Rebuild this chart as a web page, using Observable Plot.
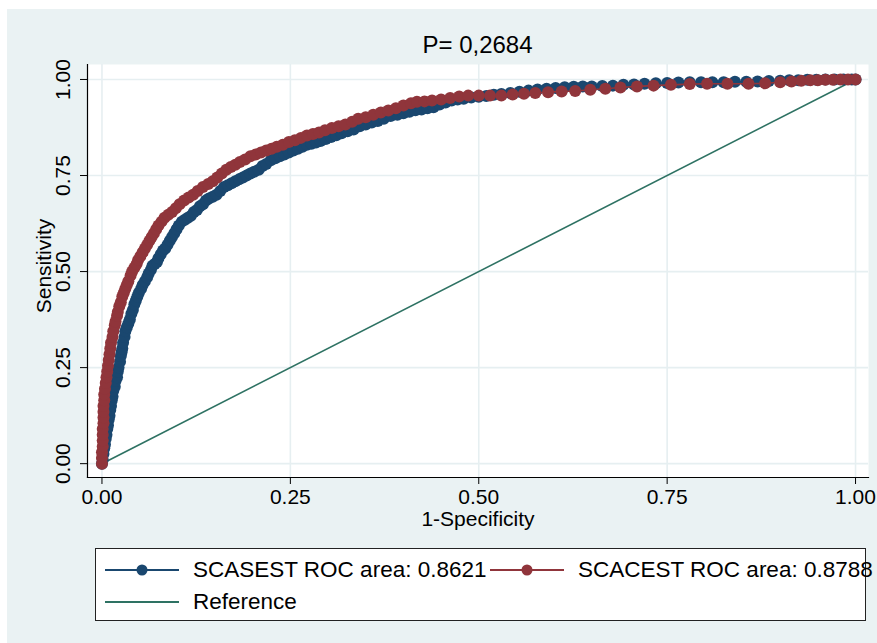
<!DOCTYPE html>
<html>
<head>
<meta charset="utf-8">
<script src="https://cdn.jsdelivr.net/npm/d3@7"></script>
<script src="https://cdn.jsdelivr.net/npm/@observablehq/plot@0.6"></script>
<style>
  body { margin: 0; background: #ffffff; }
  #wrap { position: relative; width: 877px; height: 643px; background: #ffffff; overflow: hidden;
          font-family: "Liberation Sans", Arial, Helvetica, sans-serif; color: #000; }
  #bg { position: absolute; left: 7px; top: 9px; width: 870px; height: 634px; background: #eaf2f3; }
  #title { position: absolute; left: 87px; width: 781px; top: 30px; text-align: center; font-size: 24px; line-height: 30px; }
  #chart { position: absolute; left: 7px; top: 9px; }
  #legend { position: absolute; left: 95px; top: 548px; width: 771px; height: 73px; background: #fff;
            border: 1px solid #222; box-sizing: border-box; }
  .item { position: absolute; display: flex; align-items: center; font-size: 22.5px; white-space: nowrap; height: 28px; }
  .item svg { display: block; margin-right: 14px; }
</style>
</head>
<body>
<div id="wrap">
  <div id="bg"></div>
  <div id="title"></div>
  <div id="chart"></div>
  <div id="legend"></div>
</div>
<script>
// ---- data ----
const titleText = "P= 0,2684";
const xLabel = "1-Specificity";
const yLabel = "Sensitivity";
const tickValues = [0, 0.25, 0.5, 0.75, 1];

const seriesNames = ["SCASEST ROC area: 0.8621", "SCACEST ROC area: 0.8788", "Reference"];
const seriesColors = ["#1a476f", "#90353b", "#2e7263"];

// SCASEST (1-specificity, sensitivity)
const scasestFPR = [0, 0.001, 0.002, 0.003, 0.004, 0.005, 0.006, 0.007, 0.008, 0.009, 0.010, 0.011, 0.012, 0.013, 0.014, 0.015, 0.017, 0.018, 0.020, 0.021, 0.022, 0.024, 0.025, 0.026, 0.027, 0.028, 0.030, 0.031, 0.033, 0.035, 0.037, 0.039, 0.041, 0.043, 0.045, 0.047, 0.049, 0.052, 0.054, 0.057, 0.060, 0.062, 0.065, 0.067, 0.070, 0.073, 0.075, 0.078, 0.081, 0.084, 0.087, 0.090, 0.093, 0.096, 0.099, 0.102, 0.106, 0.110, 0.114, 0.118, 0.122, 0.126, 0.130, 0.134, 0.138, 0.142, 0.147, 0.152, 0.157, 0.162, 0.167, 0.172, 0.177, 0.182, 0.187, 0.192, 0.197, 0.202, 0.208, 0.213, 0.218, 0.224, 0.230, 0.236, 0.242, 0.248, 0.254, 0.260, 0.266, 0.272, 0.278, 0.284, 0.290, 0.297, 0.304, 0.311, 0.318, 0.326, 0.334, 0.342, 0.350, 0.358, 0.366, 0.374, 0.383, 0.392, 0.400, 0.408, 0.416, 0.424, 0.432, 0.440, 0.448, 0.456, 0.464, 0.472, 0.480, 0.490, 0.500, 0.510, 0.520, 0.530, 0.542, 0.554, 0.566, 0.578, 0.590, 0.602, 0.614, 0.626, 0.638, 0.650, 0.664, 0.678, 0.692, 0.706, 0.720, 0.735, 0.750, 0.765, 0.780, 0.795, 0.810, 0.825, 0.840, 0.855, 0.870, 0.885, 0.900, 0.912, 0.924, 0.936, 0.948, 0.960, 0.972, 0.984, 0.995, 1.0];
const scasestTPR = [0, 0.010, 0.025, 0.040, 0.050, 0.065, 0.075, 0.090, 0.100, 0.115, 0.125, 0.140, 0.150, 0.165, 0.175, 0.190, 0.200, 0.215, 0.225, 0.240, 0.250, 0.265, 0.280, 0.290, 0.300, 0.315, 0.330, 0.345, 0.355, 0.365, 0.375, 0.390, 0.400, 0.415, 0.425, 0.435, 0.445, 0.455, 0.465, 0.475, 0.485, 0.495, 0.505, 0.515, 0.520, 0.525, 0.535, 0.545, 0.555, 0.560, 0.570, 0.580, 0.590, 0.600, 0.610, 0.620, 0.630, 0.635, 0.640, 0.645, 0.655, 0.660, 0.670, 0.675, 0.685, 0.690, 0.695, 0.700, 0.710, 0.720, 0.725, 0.730, 0.735, 0.740, 0.745, 0.750, 0.755, 0.760, 0.765, 0.775, 0.780, 0.790, 0.795, 0.800, 0.805, 0.810, 0.815, 0.820, 0.825, 0.830, 0.833, 0.836, 0.840, 0.845, 0.850, 0.855, 0.860, 0.865, 0.870, 0.878, 0.883, 0.888, 0.892, 0.898, 0.905, 0.908, 0.912, 0.916, 0.920, 0.922, 0.925, 0.928, 0.935, 0.940, 0.945, 0.948, 0.950, 0.953, 0.955, 0.957, 0.960, 0.962, 0.965, 0.968, 0.971, 0.974, 0.976, 0.978, 0.980, 0.981, 0.982, 0.982, 0.983, 0.984, 0.986, 0.987, 0.989, 0.990, 0.991, 0.992, 0.993, 0.993, 0.993, 0.993, 0.994, 0.994, 0.995, 0.996, 0.997, 0.998, 0.998, 0.999, 0.999, 1.0, 1.0, 1.0, 1.0, 1.0];

// SCACEST (1-specificity, sensitivity)
const scacestFPR = [0, 0, 0, 0.001, 0.001, 0.001, 0.001, 0.002, 0.002, 0.002, 0.002, 0.003, 0.003, 0.004, 0.005, 0.006, 0.007, 0.008, 0.009, 0.010, 0.011, 0.012, 0.014, 0.015, 0.017, 0.018, 0.020, 0.021, 0.023, 0.025, 0.027, 0.029, 0.031, 0.033, 0.035, 0.038, 0.040, 0.043, 0.046, 0.048, 0.051, 0.054, 0.057, 0.060, 0.063, 0.066, 0.069, 0.072, 0.075, 0.079, 0.083, 0.088, 0.093, 0.098, 0.103, 0.109, 0.115, 0.121, 0.127, 0.134, 0.141, 0.147, 0.153, 0.159, 0.165, 0.171, 0.177, 0.183, 0.190, 0.197, 0.204, 0.211, 0.218, 0.225, 0.232, 0.240, 0.248, 0.256, 0.264, 0.272, 0.280, 0.288, 0.296, 0.305, 0.314, 0.323, 0.332, 0.340, 0.350, 0.360, 0.370, 0.380, 0.390, 0.400, 0.410, 0.418, 0.428, 0.438, 0.450, 0.462, 0.474, 0.486, 0.500, 0.515, 0.530, 0.545, 0.560, 0.575, 0.592, 0.610, 0.628, 0.648, 0.668, 0.688, 0.710, 0.732, 0.755, 0.780, 0.803, 0.830, 0.858, 0.880, 0.900, 0.915, 0.928, 0.940, 0.950, 0.960, 0.970, 0.980, 0.990, 1.0];
const scacestTPR = [0, 0.015, 0.030, 0.045, 0.060, 0.075, 0.090, 0.105, 0.120, 0.135, 0.150, 0.165, 0.180, 0.195, 0.210, 0.225, 0.240, 0.255, 0.270, 0.285, 0.300, 0.315, 0.330, 0.345, 0.360, 0.370, 0.385, 0.395, 0.410, 0.420, 0.435, 0.445, 0.455, 0.465, 0.475, 0.490, 0.500, 0.510, 0.520, 0.530, 0.540, 0.550, 0.560, 0.570, 0.580, 0.590, 0.600, 0.610, 0.620, 0.630, 0.640, 0.648, 0.655, 0.665, 0.675, 0.685, 0.693, 0.700, 0.710, 0.720, 0.728, 0.735, 0.745, 0.755, 0.765, 0.772, 0.778, 0.785, 0.792, 0.800, 0.805, 0.810, 0.815, 0.820, 0.825, 0.830, 0.837, 0.842, 0.848, 0.854, 0.858, 0.862, 0.868, 0.874, 0.878, 0.883, 0.890, 0.898, 0.902, 0.908, 0.914, 0.919, 0.925, 0.932, 0.938, 0.942, 0.943, 0.945, 0.948, 0.952, 0.956, 0.958, 0.958, 0.958, 0.958, 0.961, 0.963, 0.965, 0.967, 0.969, 0.970, 0.973, 0.976, 0.979, 0.982, 0.984, 0.986, 0.988, 0.989, 0.989, 0.989, 0.990, 0.993, 0.995, 0.997, 0.998, 0.998, 0.999, 0.999, 1.0, 1.0, 1.0];

// Reference diagonal
const refFPR = [0, 1];
const refTPR = [0, 1];

// ---- build tables ----
const toRows = (xs, ys) => xs.map((x, i) => ({x, y: ys[i]}));
const blue = toRows(scasestFPR, scasestTPR);
const red = toRows(scacestFPR, scacestTPR);
const ref = toRows(refFPR, refTPR);

const FONT = "Liberation Sans, Arial, Helvetica, sans-serif";
const fmt = d => d.toFixed(2);
const TICK_FS = 21;

const chart = Plot.plot({
  width: 870,
  height: 530,
  marginLeft: 80,
  marginRight: 9,
  marginTop: 55,
  marginBottom: 62,
  style: {background: "transparent", fontFamily: FONT, fontSize: "21px", color: "#000", overflow: "visible"},
  x: {domain: [-0.0192, 1.0172], ticks: tickValues},
  y: {domain: [-0.036, 1.039], ticks: tickValues},
  marks: [
    Plot.frame({fill: "#ffffff", stroke: null}),
    Plot.gridX(tickValues, {stroke: "#e6eff1", strokeOpacity: 1, strokeWidth: 1.6}),
    Plot.gridY(tickValues, {stroke: "#e6eff1", strokeOpacity: 1, strokeWidth: 1.6}),
    Plot.line(ref, {x: "x", y: "y", stroke: seriesColors[2], strokeWidth: 1.6}),
    Plot.line(blue, {x: "x", y: "y", stroke: seriesColors[0], strokeWidth: 1.6}),
    Plot.dot(blue, {x: "x", y: "y", r: 6, fill: seriesColors[0], stroke: null}),
    Plot.line(red, {x: "x", y: "y", stroke: seriesColors[1], strokeWidth: 1.6}),
    Plot.dot(red, {x: "x", y: "y", r: 6, fill: seriesColors[1], stroke: null}),
    Plot.frame({anchor: "bottom", stroke: "#000", strokeWidth: 1.2}),
    Plot.frame({anchor: "left", stroke: "#000", strokeWidth: 1.2}),
    Plot.axisX(tickValues, {tickSize: 7, tickPadding: 5, tickFormat: fmt, fontSize: TICK_FS, label: null, stroke: "#000"}),
    Plot.axisY(tickValues, {tickSize: 7, tickFormat: () => "", label: null, stroke: "#000"}),
    Plot.text(tickValues, {y: d => d, text: fmt, frameAnchor: "left", textAnchor: "middle", dx: -24, rotate: -90, fontSize: TICK_FS, fill: "#000"}),
    Plot.text([xLabel], {frameAnchor: "bottom", textAnchor: "middle", dy: 48, fontSize: TICK_FS, fill: "#000"}),
    Plot.text([yLabel], {frameAnchor: "left", textAnchor: "middle", dx: -43, dy: -5, rotate: -90, fontSize: TICK_FS, fill: "#000"})
  ]
});
document.getElementById("chart").appendChild(chart);
document.getElementById("title").textContent = titleText;

// ---- legend ----
const legend = d3.select("#legend");
const entries = [
  {name: seriesNames[0], color: seriesColors[0], dot: true, left: 9, top: 7},
  {name: seriesNames[1], color: seriesColors[1], dot: true, left: 394, top: 7},
  {name: seriesNames[2], color: seriesColors[2], dot: false, left: 9, top: 39}
];
for (const e of entries) {
  const item = legend.append("div").attr("class", "item")
    .style("left", e.left + "px").style("top", e.top + "px");
  const svg = item.append("svg").attr("width", 74).attr("height", 14);
  svg.append("line").attr("x1", 0).attr("x2", 74).attr("y1", 7).attr("y2", 7)
    .attr("stroke", e.color).attr("stroke-width", 2);
  if (e.dot) svg.append("circle").attr("cx", 37).attr("cy", 7).attr("r", 5.5).attr("fill", e.color);
  item.append("span").text(e.name);
}
</script>
</body>
</html>
